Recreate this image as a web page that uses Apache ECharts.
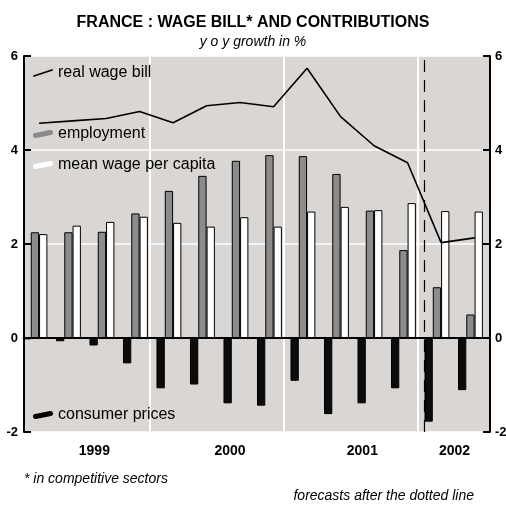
<!DOCTYPE html>
<html>
<head>
<meta charset="utf-8">
<title>France: wage bill and contributions</title>
<script src="https://cdn.jsdelivr.net/npm/echarts@6/dist/echarts.min.js"></script>
<style>
  html, body { margin: 0; padding: 0; background: #fff; }
  #chart { width: 506px; height: 506px; }
</style>
</head>
<body>
<div id="chart"></div>
<script>
// quarters 1999Q1 .. 2002Q2, plotted at index positions on a value axis
const quarters = ["1999Q1", "1999Q2", "1999Q3", "1999Q4", "2000Q1", "2000Q2", "2000Q3", "2000Q4",
  "2001Q1", "2001Q2", "2001Q3", "2001Q4", "2002Q1", "2002Q2"];

// y o y growth in %
const realWageBill = [4.57, 4.62, 4.67, 4.82, 4.58, 4.94, 5.01, 4.92, 5.74, 4.71, 4.09, 3.73, 2.03, 2.13];
const employment = [2.25, 2.25, 2.26, 2.65, 3.13, 3.45, 3.77, 3.89, 3.87, 3.49, 2.71, 1.87, 1.08, 0.50];
const meanWage = [2.21, 2.39, 2.47, 2.58, 2.45, 2.37, 2.57, 2.37, 2.69, 2.79, 2.72, 2.87, 2.70, 2.69];
const consumerPrices = [-0.03, -0.07, -0.16, -0.54, -1.07, -0.99, -1.39, -1.44, -0.91, -1.62, -1.39, -1.07, -1.78, -1.11];

// year labels and where they sit (in quarter units)
const years = ["1999", "2000", "2001", "2002"];
const yearLabelPos = [1.65, 5.7, 9.65, 12.4];
const yearBreaks = [3.285, 7.285, 11.285];
const forecastStart = 11.49;

const yTicks = [-2, 0, 2, 4, 6];

const FONT = "Liberation Sans, Arial, sans-serif";

const pairs = arr => arr.map((v, i) => [i, v]);

// legend marks: a thin slanted stroke for the line, a slanted capsule for the bars
const lineIcon = "path://M0,6.5 L19.5,0 L20,1.5 L0.5,8 Z";
const blobIcon = "path://M3,7.95 L18,4.95 A2.5,2.5 0 0 0 17,0.05 L2,3.05 A2.5,2.5 0 0 0 3,7.95 Z";

const legendBase = {
  left: 33,
  z: 10,
  orient: "vertical",
  padding: 0,
  itemWidth: 20,
  itemHeight: 8,
  itemGap: 0,
  selectedMode: false,
  textStyle: { fontFamily: FONT, fontSize: 16, color: "#000" }
};

const chart = echarts.init(document.getElementById("chart"), null, { renderer: "canvas" });

const barCommon = {
  type: "bar",
  barWidth: 8.3,
  barGap: "0%",
  z: 3
};

const yAxisCommon = {
  type: "value",
  min: yTicks[0],
  max: yTicks[yTicks.length - 1],
  interval: 2,
  axisLine: { show: true, onZero: false, lineStyle: { color: "#000", width: 2 } },
  axisTick: { show: true, inside: true, length: 7, lineStyle: { color: "#000", width: 2 } }
};

const option = {
  animation: false,
  backgroundColor: "#fff",
  title: [
    {
      text: "FRANCE : WAGE BILL* AND CONTRIBUTIONS",
      left: "center",
      top: 15,
      padding: 0,
      textStyle: { fontFamily: FONT, fontSize: 16, fontWeight: "bold", color: "#000" }
    },
    {
      text: "y o y growth in %",
      left: "center",
      top: 35,
      padding: 0,
      textStyle: { fontFamily: FONT, fontSize: 14, fontStyle: "italic", fontWeight: "normal", color: "#000" }
    },
    {
      text: "* in competitive sectors",
      left: 24,
      top: 472,
      padding: 0,
      textStyle: { fontFamily: FONT, fontSize: 14, fontStyle: "italic", fontWeight: "normal", color: "#000" }
    },
    {
      text: "forecasts after the dotted line",
      right: 32,
      top: 489,
      padding: 0,
      textStyle: { fontFamily: FONT, fontSize: 14, fontStyle: "italic", fontWeight: "normal", color: "#000" }
    }
  ],
  legend: [
    Object.assign({}, legendBase, {
      top: 65,
      data: [{ name: "real wage bill", icon: lineIcon, itemStyle: { color: "#000", borderWidth: 0 } }]
    }),
    Object.assign({}, legendBase, {
      top: 126,
      data: [{ name: "employment", icon: blobIcon, itemStyle: { color: "#8a8a8a", borderWidth: 0 } }]
    }),
    Object.assign({}, legendBase, {
      top: 157,
      data: [{ name: "mean wage per capita", icon: blobIcon, itemStyle: { color: "#fff", borderWidth: 0 } }]
    }),
    Object.assign({}, legendBase, {
      top: 407,
      data: [{ name: "consumer prices", icon: blobIcon, itemStyle: { color: "#000", borderWidth: 0 } }]
    })
  ],
  grid: {
    left: 24,
    right: 16,
    top: 56,
    bottom: 74,
    outerBoundsMode: "none",
    containLabel: false,
    show: true,
    backgroundColor: "#d9d6d3",
    borderWidth: 0
  },
  xAxis: {
    type: "value",
    min: -0.45,
    max: 13.46,
    axisLine: { show: false },
    axisTick: { show: false },
    splitLine: { show: false },
    axisLabel: {
      customValues: yearLabelPos,
      formatter: v => years[yearLabelPos.indexOf(v)] || "",
      margin: 12,
      fontFamily: FONT,
      fontSize: 14,
      fontWeight: "bold",
      color: "#000"
    }
  },
  yAxis: [
    Object.assign({}, yAxisCommon, {
      position: "left",
      splitLine: { show: true, lineStyle: { color: "#fff", width: 1.5 } },
      axisLabel: { margin: 6, fontFamily: FONT, fontSize: 13, fontWeight: "bold", color: "#000" }
    }),
    Object.assign({}, yAxisCommon, {
      position: "right",
      splitLine: { show: false },
      axisLabel: { margin: 5, fontFamily: FONT, fontSize: 13, fontWeight: "bold", color: "#000" }
    })
  ],
  series: [
    Object.assign({}, barCommon, {
      name: "consumer prices",
      data: pairs(consumerPrices),
      itemStyle: { color: "#0b0b0b", borderColor: "#000", borderWidth: 1 }
    }),
    Object.assign({}, barCommon, {
      name: "employment",
      data: pairs(employment),
      itemStyle: { color: "#8c8c8c", borderColor: "#000", borderWidth: 1 }
    }),
    Object.assign({}, barCommon, {
      name: "mean wage per capita",
      data: pairs(meanWage),
      itemStyle: { color: "#fff", borderColor: "#000", borderWidth: 1 }
    }),
    // empty slot so the line falls on the employment / wage boundary
    Object.assign({}, barCommon, {
      name: "_gap",
      data: pairs(quarters.map(() => 0)),
      silent: true,
      z: 1,
      itemStyle: { color: "rgba(0,0,0,0)", borderWidth: 0 }
    }),
    {
      name: "real wage bill",
      type: "line",
      data: pairs(realWageBill),
      symbol: "none",
      z: 5,
      lineStyle: { color: "#000", width: 1.6 },
      itemStyle: { color: "#000" },
      markLine: {
        silent: true,
        symbol: "none",
        label: { show: false },
        data: yearBreaks.map(x => ({ xAxis: x, lineStyle: { color: "#fff", width: 2, type: "solid" } })).concat([
          { yAxis: 0, lineStyle: { color: "#000", width: 2, type: "solid" } },
          { xAxis: forecastStart, lineStyle: { color: "#000", width: 1.2, type: [12, 8] } }
        ])
      }
    }
  ]
};

chart.setOption(option);
window.addEventListener("resize", () => chart.resize());
</script>
</body>
</html>
